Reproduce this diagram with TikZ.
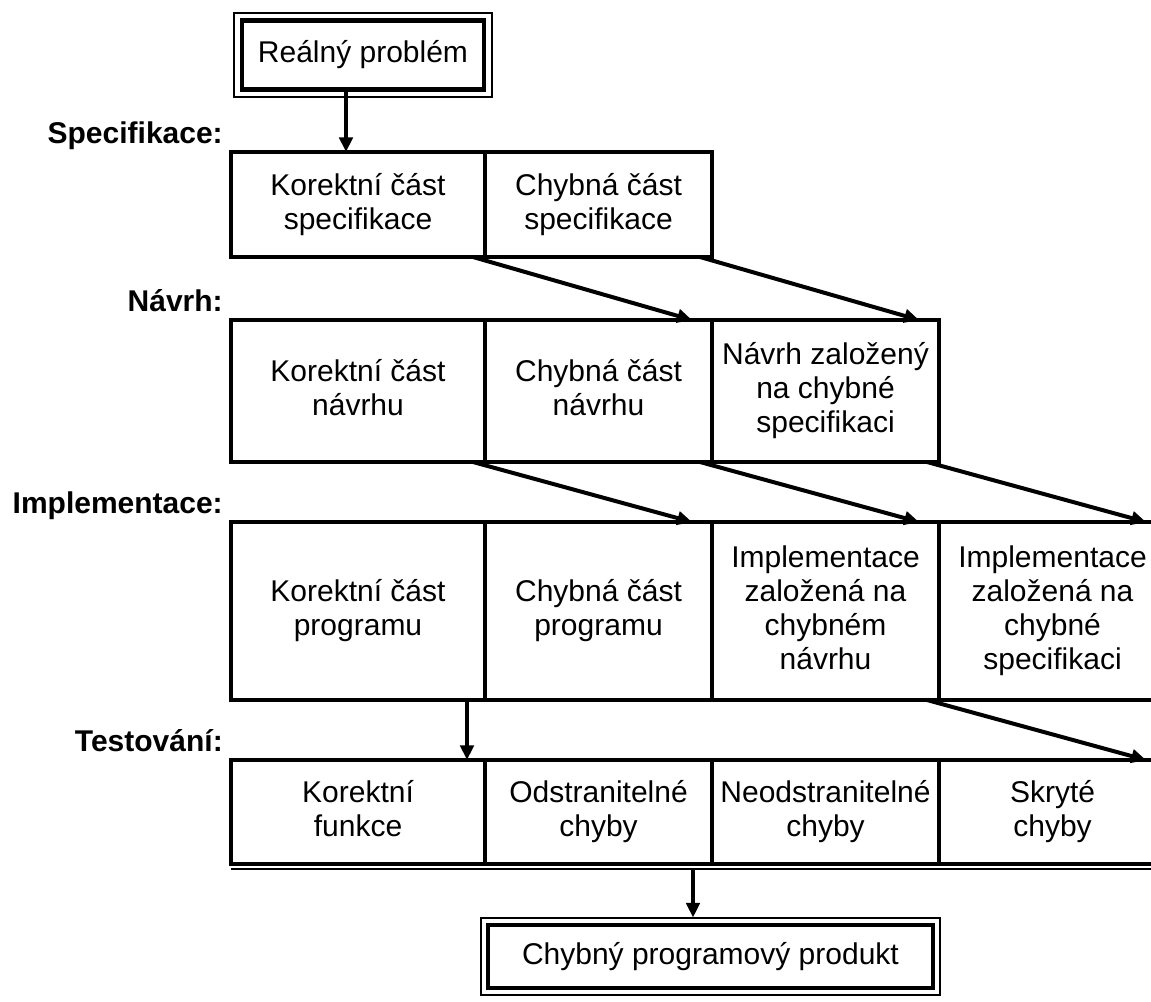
\documentclass[tikz,border=0pt]{standalone}
\usepackage{fontspec}
\setmainfont{Liberation Sans}
\usepackage{tikz}
\usetikzlibrary{arrows.meta,calc,fit}
\usetikzlibrary{positioning}

\newcommand{\cellfont}{\fontsize{22.5pt}{25.5pt}\selectfont}
\newcommand{\cellstrut}{\rule[-5pt]{0pt}{34pt}}
\tikzset{
    box/.style={draw, line width=3.3pt, inner sep=0pt, outer sep=0pt, align=center, font=\cellfont},
    cell/.style={box, execute at begin node=\cellstrut, execute at end node=\cellstrut},
    first/.style={minimum width=190.5pt},
    other/.style={minimum width=170.25pt},
    stage/.style={anchor=base east, inner sep=0pt, font=\cellfont\bfseries},
    link/.style={line width=3pt, -{Triangle[length=11pt,width=10pt]}},
    frame/.style={draw, line width=1.5pt, inner sep=5.6pt, outer sep=0pt},
}

\begin{document}
\begin{tikzpicture}[x=0.75pt,y=-0.75pt]
    \useasboundingbox (0,0) rectangle (1151,1001);
    \clip (0,0) rectangle (1151,1001); % cuts off the last column

    \node[box, minimum height=52pt, inner xsep=12pt] (real) at (363,55) {Reálný problém};
    \node[frame, fit=(real)] (realframe) {};

    % Specifikace
    \node[cell, first, minimum height=78.75pt] (s1) at (358,204.5) {Korektní část\\specifikace};
    \node[cell, other, minimum height=78.75pt, right=0pt of s1] (s2) {Chybná část\\specifikace};
    \node[stage] (lspec) at ($(s1.north west)+(-8,-9)$) {Specifikace:};

    % Navrh
    \node[cell, first, minimum height=106.5pt, below=47.25pt of s1] (n1) {Korektní část\\návrhu};
    \node[cell, other, minimum height=106.5pt, right=0pt of n1] (n2) {Chybná část\\návrhu};
    \node[cell, other, minimum height=106.5pt, right=0pt of n2] (n3) {Návrh založený\\na chybné\\specifikaci};
    \node[stage] (lnavrh) at ($(n1.north west)+(-8,-9)$) {Návrh:};

    % Implementace
    \node[cell, first, minimum height=133.5pt, below=45pt of n1] (i1) {Korektní část\\programu};
    \node[cell, other, minimum height=133.5pt, right=0pt of i1] (i2) {Chybná část\\programu};
    \node[cell, other, minimum height=133.5pt, right=0pt of i2] (i3) {Implementace\\založená na\\chybném\\návrhu};
    \node[cell, other, minimum height=133.5pt, right=0pt of i3] (i4) {Implementace\\založená na\\chybné\\specifikaci};
    \node[stage] (limpl) at ($(i1.north west)+(-8,-9)$) {Implementace:};

    % Testovani
    \node[cell, first, minimum height=78pt, below=45pt of i1] (t1) {Korektní\\funkce};
    \node[cell, other, minimum height=78pt, right=0pt of t1] (t2) {Odstranitelné\\chyby};
    \node[cell, other, minimum height=78pt, right=0pt of t2] (t3) {Neodstranitelné\\chyby};
    \node[cell, other, minimum height=78pt, right=0pt of t3] (t4) {Skryté\\chyby};
    \node[stage] (ltest) at ($(t1.north west)+(-8,-9)$) {Testování:};
    \draw[line width=1.5pt] ($(t1.south west)+(0,5)$) -- ($(t4.south east)+(0,5)$); % second line under the row

    \node[box, anchor=north west, minimum height=47.25pt, inner xsep=25.5pt] (prod) at ($(t2.south west)+(3,61)$) {Chybný programový produkt};
    \node[frame, fit=(prod)] (prodframe) {};

    % arrows
    \coordinate (rs) at ($(real.south)+(-17,0)$);
    \draw[link] (rs) -- (rs |- s1.north);
    \foreach \a/\b in {s1/n2, s2/n3, n1/i2, n2/i3, n3/i4, i3/t4}{
        \draw[link] ($(\a.south east)+(-12,0)$) -- ($(\b.north east)+(-20,0)$);
    }
    \coordinate (ic) at ($(i1.south east)+(-18,0)$);
    \draw[link] (ic) -- (ic |- t1.north);
    \coordinate (tb) at ($(t2.south east)+(-19,5)$);
    \draw[link] (tb) -- (tb |- prodframe.north);
\end{tikzpicture}
\end{document}
